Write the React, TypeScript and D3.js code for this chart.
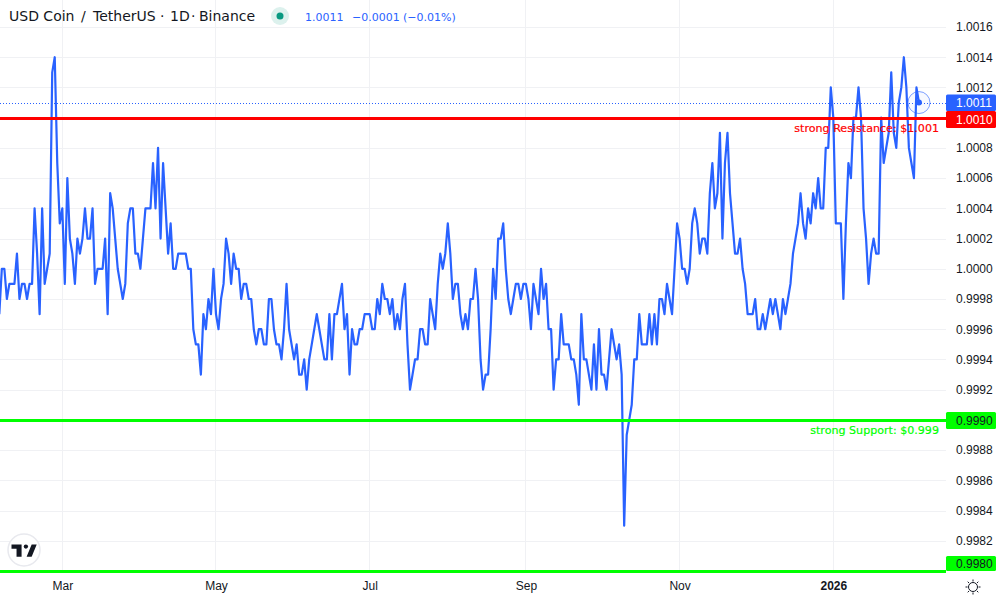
import { useEffect, useRef } from "react";
import * as d3 from "d3";

// Daily closes
const feb25 = [0.9997, 1.0, 1.0, 0.9998, 0.9999, 0.9999, 0.9999, 1.0001, 0.9998, 0.9999, 0.9999, 0.9998, 0.9999, 0.9999, 1.0004, 1.0001, 0.9997, 1.0004, 0.9999, 1.0, 1.0001, 1.0013, 1.0014, 1.0007, 1.0003];
const mar25 = [1.0004, 0.9999, 1.0006, 1.0002, 1.0001, 0.9999, 1.0002, 1.0001, 1.0002, 1.0004, 1.0002, 1.0002, 1.0004, 0.9999, 1.0, 1.0, 1.0, 1.0002, 0.9997, 1.0005, 1.0004, 1.0002, 1.0, 0.9999, 0.9998, 0.9999, 1.0003, 1.0004, 1.0004, 1.0001, 1.0001];
const apr25 = [1.0, 1.0002, 1.0004, 1.0004, 1.0004, 1.0007, 1.0004, 1.0008, 1.0002, 1.0007, 1.0004, 1.0001, 1.0003, 1.0, 1.0, 1.0001, 1.0001, 1.0001, 1.0001, 1.0, 1.0, 0.9996, 0.9995, 0.9995, 0.9993, 0.9997, 0.9996, 0.9998, 0.9997, 1.0];
const may25 = [0.9997, 0.9996, 0.9998, 0.9999, 1.0002, 1.0001, 0.9999, 1.0001, 1.0, 1.0, 0.9998, 0.9999, 0.9999, 0.9998, 0.9998, 0.9996, 0.9995, 0.9996, 0.9996, 0.9995, 0.9995, 0.9998, 0.9998, 0.9996, 0.9995, 0.9995, 0.9994, 0.9996, 0.9999, 0.9996, 0.9995];
const jun25 = [0.9994, 0.9995, 0.9993, 0.9993, 0.9994, 0.9992, 0.9994, 0.9995, 0.9996, 0.9997, 0.9996, 0.9995, 0.9994, 0.9994, 0.9997, 0.9994, 0.9997, 0.9997, 0.9998, 0.9999, 0.9996, 0.9997, 0.9993, 0.9996, 0.9995, 0.9995, 0.9996, 0.9996, 0.9997, 0.9997];
const jul25 = [0.9997, 0.9996, 0.9996, 0.9998, 0.9997, 0.9999, 0.9998, 0.9998, 0.9997, 0.9998, 0.9996, 0.9997, 0.9996, 0.9998, 0.9999, 0.9995, 0.9992, 0.9993, 0.9994, 0.9994, 0.9996, 0.9996, 0.9995, 0.9995, 0.9998, 0.9997, 0.9996, 0.9999, 1.0001, 1.0, 1.0001];
const aug25 = [1.0003, 1.0001, 0.9998, 0.9999, 0.9999, 0.9997, 0.9996, 0.9997, 0.9996, 0.9998, 0.9998, 1.0, 0.9998, 0.9994, 0.9992, 0.9993, 0.9993, 0.9996, 1.0, 0.9998, 1.0002, 1.0002, 1.0003, 1.0, 0.9998, 0.9997, 0.9998, 0.9999, 0.9999, 0.9998, 0.9999];
const sep25 = [0.9999, 0.9998, 0.9996, 0.9999, 0.9998, 0.9997, 1.0, 0.9998, 0.9999, 0.9996, 0.9996, 0.9992, 0.9994, 0.9994, 0.9997, 0.9995, 0.9995, 0.9995, 0.9994, 0.9994, 0.9993, 0.9991, 0.9997, 0.9994, 0.9994, 0.9993, 0.9992, 0.9995, 0.9992, 0.9996];
const oct25 = [0.9993, 0.9993, 0.9992, 0.9994, 0.9996, 0.9995, 0.9994, 0.9995, 0.9993, 0.9983, 0.9989, 0.999, 0.9991, 0.9994, 0.9994, 0.9997, 0.9995, 0.9995, 0.9995, 0.9997, 0.9995, 0.9997, 0.9995, 0.9998, 0.9998, 0.9997, 0.9999, 0.9998, 0.9997, 1.0, 1.0003];
const nov25 = [1.0002, 1.0, 1.0, 0.9999, 1.0, 1.0003, 1.0004, 1.0003, 1.0001, 1.0002, 1.0002, 1.0001, 1.0005, 1.0007, 1.0004, 1.0005, 1.0009, 1.0002, 1.0007, 1.0009, 1.0005, 1.0003, 1.0001, 1.0001, 1.0002, 1.0, 0.9999, 0.9997, 0.9997, 0.9997];
const dec25 = [0.9998, 0.9996, 0.9996, 0.9997, 0.9996, 0.9997, 0.9998, 0.9997, 0.9998, 0.9997, 0.9996, 0.9998, 0.9997, 0.9998, 0.9999, 1.0001, 1.0002, 1.0003, 1.0005, 1.0003, 1.0002, 1.0004, 1.0003, 1.0005, 1.0004, 1.0006, 1.0004, 1.0004, 1.0008, 1.0008, 1.0012];
const jan26 = [1.001, 1.0003, 1.0003, 1.0003, 0.9998, 1.0003, 1.0007, 1.0006, 1.001, 1.001, 1.0012, 1.001, 1.0004, 1.0002, 0.9999, 1.0001, 1.0002, 1.0001, 1.0001, 1.001, 1.0007, 1.0008, 1.0009, 1.0013, 1.0009, 1.0008, 1.0011, 1.0012, 1.0014, 1.0012, 1.0008];
const feb26 = [1.0007, 1.0006, 1.0012, 1.0011];

const closes = [...feb25, ...mar25, ...apr25, ...may25, ...jun25, ...jul25, ...aug25, ...sep25, ...oct25, ...nov25, ...dec25, ...jan26, ...feb26];
const firstDay = new Date(Date.UTC(2025, 1, 4));

const priceTicks = [1.0016, 1.0014, 1.0012, 1.0008, 1.0006, 1.0004, 1.0002, 1.0, 0.9998, 0.9996, 0.9994, 0.9992, 0.9988, 0.9986, 0.9984, 0.9982];
const gridPrices = [...priceTicks, 1.001, 0.999];
const monthTicks = [
  new Date(Date.UTC(2025, 2, 1)),
  new Date(Date.UTC(2025, 4, 1)),
  new Date(Date.UTC(2025, 6, 1)),
  new Date(Date.UTC(2025, 8, 1)),
  new Date(Date.UTC(2025, 10, 1)),
  new Date(Date.UTC(2026, 0, 1)),
];
const monthLabels = ["Mar", "May", "Jul", "Sep", "Nov", "2026"];

const titleParts = ["USD Coin", "/", "TetherUS", "·", "1D", "·", "Binance"];
const titleStarts = [9, 81, 93, 160, 170, 191, 199];
const quoteParts = ["1.0011", "−0.0001", "(−0.01%)"];
const quoteStarts = [305, 352, 403];

const resistance = 1.001;
const support = 0.999;
const lowerLine = 0.998;
const lastPrice = 1.0011;

const WIDTH = 1000;
const HEIGHT = 600;
const PANE_RIGHT = 946;
const PANE_BOTTOM = 571;
const FONT = "'DejaVu Sans', sans-serif";
const AXIS_FONT = "'Liberation Sans', sans-serif";

const BLUE = "#2962ff";
const RED = "#ff0000";
const GREEN = "#00ff00";
const TEXT = "#131722";

function App() {
  const svgRef = useRef<SVGSVGElement>(null);

  useEffect(() => {
    const svgEl = svgRef.current;
    if (!svgEl) return;
    const svg = d3.select(svgEl);
    svg.selectAll("*").remove();

    const x = d3
      .scaleUtc()
      .domain([monthTicks[0], monthTicks[5]])
      .range([62.3, 833.3]);
    const y = d3.scaleLinear().domain([0.998, 1.0016]).range([PANE_BOTTOM, 27]);
    // Horizontal rules sit on whole pixels
    const crisp = (price: number) => Math.round(y(price)) + 0.5;

    const points = closes.map((v, i) => ({
      date: d3.utcDay.offset(firstDay, i),
      value: v,
    }));
    const last = points[points.length - 1];

    // Grid
    svg
      .append("g")
      .selectAll("line")
      .data(gridPrices)
      .join("line")
      .attr("x1", 0)
      .attr("x2", PANE_RIGHT)
      .attr("y1", (d) => crisp(d))
      .attr("y2", (d) => crisp(d))
      .attr("stroke", "#f0f1f4");

    svg
      .append("g")
      .selectAll("line")
      .data(monthTicks)
      .join("line")
      .attr("x1", (d) => Math.floor(x(d)) + 0.5)
      .attr("x2", (d) => Math.floor(x(d)) + 0.5)
      .attr("y1", 0)
      .attr("y2", PANE_BOTTOM)
      .attr("stroke", "#f0f1f4");

    // Last price dotted line
    svg
      .append("line")
      .attr("x1", 0)
      .attr("x2", PANE_RIGHT)
      .attr("y1", crisp(lastPrice))
      .attr("y2", crisp(lastPrice))
      .attr("stroke", BLUE)
      .attr("stroke-dasharray", "1,2");

    // Price line
    const line = d3
      .line<{ date: Date; value: number }>()
      .x((d) => x(d.date))
      .y((d) => y(d.value))
      .curve(d3.curveLinear);

    svg
      .append("path")
      .datum(points)
      .attr("fill", "none")
      .attr("stroke", BLUE)
      .attr("stroke-width", 2.2)
      .attr("stroke-linejoin", "round")
      .attr("d", line);

    // Support / resistance lines
    const levels = [
      { price: resistance, color: RED },
      { price: support, color: GREEN },
      { price: lowerLine, color: GREEN },
    ];
    svg
      .append("g")
      .selectAll("line")
      .data(levels)
      .join("line")
      .attr("x1", 0)
      .attr("x2", PANE_RIGHT)
      .attr("y1", (d) => crisp(d.price))
      .attr("y2", (d) => crisp(d.price))
      .attr("stroke", (d) => d.color)
      .attr("stroke-width", 3);

    // Pulse marker
    svg
      .append("circle")
      .attr("cx", x(last.date))
      .attr("cy", y(last.value))
      .attr("r", 11)
      .attr("fill", "rgba(41,98,255,0.04)")
      .attr("stroke", "rgba(41,98,255,0.6)");
    svg
      .append("circle")
      .attr("cx", x(last.date))
      .attr("cy", y(last.value))
      .attr("r", 3)
      .attr("fill", BLUE);

    // Level notes
    svg
      .append("text")
      .attr("x", 939)
      .attr("y", y(resistance) + 14)
      .attr("text-anchor", "end")
      .attr("font-family", FONT)
      .attr("font-size", 11.1)
      .attr("fill", RED)
      .attr("stroke", RED)
      .attr("stroke-width", 0.2)
      .text("strong Resistance: $1.001");
    svg
      .append("text")
      .attr("x", 939)
      .attr("y", y(support) + 14)
      .attr("text-anchor", "end")
      .attr("font-family", FONT)
      .attr("font-size", 11.1)
      .attr("fill", GREEN)
      .attr("stroke", GREEN)
      .attr("stroke-width", 0.2)
      .text("strong Support: $0.999");

    // Price axis
    const fmt = d3.format(".4f");
    svg
      .append("g")
      .attr("transform", `translate(${PANE_RIGHT},0)`)
      .call(
        d3
          .axisRight(y)
          .tickValues(priceTicks)
          .tickSize(0)
          .tickPadding(10)
          .tickFormat((d) => fmt(d as number))
      )
      .call((g) => g.select(".domain").remove())
      .call((g) =>
        g
          .selectAll(".tick text")
          .attr("fill", TEXT)
          .attr("font-family", AXIS_FONT)
          .attr("font-size", "12px")
      );

    // Price pills
    const pills = [
      { top: 94.5, h: 16.5, fill: BLUE, color: "#ffffff", label: fmt(lastPrice) },
      { top: 111, h: 17, fill: RED, color: "#ffffff", label: fmt(resistance) },
      { top: 412, h: 17, fill: GREEN, color: TEXT, label: fmt(support) },
      { top: 556, h: 15, fill: GREEN, color: TEXT, label: fmt(lowerLine) },
    ];
    const pillGroup = svg.append("g");
    pillGroup
      .selectAll("rect")
      .data(pills)
      .join("rect")
      .attr("x", PANE_RIGHT)
      .attr("y", (d) => d.top)
      .attr("width", 50)
      .attr("height", (d) => d.h)
      .attr("rx", 1.5)
      .attr("fill", (d) => d.fill);
    pillGroup
      .selectAll("text")
      .data(pills)
      .join("text")
      .attr("x", 956)
      .attr("y", (d) => d.top + d.h / 2 + 4.3)
      .attr("font-family", AXIS_FONT)
      .attr("font-size", 12)
      .attr("fill", (d) => d.color)
      .text((d) => d.label);

    // Time axis
    svg
      .append("g")
      .attr("transform", `translate(0,${PANE_BOTTOM})`)
      .call(
        d3
          .axisBottom(x)
          .tickValues(monthTicks)
          .tickSize(0)
          .tickPadding(10)
          .tickFormat((_, i) => monthLabels[i])
      )
      .call((g) => g.select(".domain").remove())
      .call((g) =>
        g
          .selectAll<SVGTextElement, Date>(".tick text")
          .attr("fill", TEXT)
          .attr("font-family", AXIS_FONT)
          .attr("font-size", "12px")
          .attr("font-weight", (_, i) => (i === 5 ? 700 : 400))
      );

    // Header
    svg
      .append("g")
      .selectAll("text")
      .data(titleParts)
      .join("text")
      .attr("x", (_, i) => titleStarts[i])
      .attr("y", 21)
      .attr("font-family", FONT)
      .attr("font-size", 14)
      .attr("fill", TEXT)
      .text((d) => d);
    svg.append("circle").attr("cx", 280).attr("cy", 16).attr("r", 9).attr("fill", "rgba(8,153,129,0.14)");
    svg.append("circle").attr("cx", 280).attr("cy", 16).attr("r", 3.5).attr("fill", "#089981");
    svg
      .append("g")
      .selectAll("text")
      .data(quoteParts)
      .join("text")
      .attr("x", (_, i) => quoteStarts[i])
      .attr("y", 21)
      .attr("font-family", FONT)
      .attr("font-size", 11)
      .attr("fill", BLUE)
      .text((d) => d);

    // Logo badge
    const logo = svg.append("g").attr("transform", "translate(24,550)");
    logo.append("circle").attr("r", 16).attr("fill", "#fff").attr("stroke", "#e8e9ee").attr("stroke-width", 1.5);
    const mark = logo.append("g").attr("transform", "translate(-12.5,-7) scale(0.72)").attr("fill", TEXT);
    mark.append("path").attr("d", "M14 2H0v6h7v11h7V2Z");
    mark.append("path").attr("d", "M28 19h-7l7-17h7l-7 17Z");
    mark.append("circle").attr("cx", 20).attr("cy", 5).attr("r", 3);

    // Theme toggle
    const sun = svg.append("g").attr("transform", "translate(973,587)");
    sun.append("circle").attr("r", 4.5).attr("fill", "#fff").attr("stroke", TEXT);
    sun
      .selectAll("line")
      .data(d3.range(8))
      .join("line")
      .attr("x1", (d) => 5.5 * Math.cos((d * Math.PI) / 4))
      .attr("y1", (d) => 5.5 * Math.sin((d * Math.PI) / 4))
      .attr("x2", (d) => 7.5 * Math.cos((d * Math.PI) / 4))
      .attr("y2", (d) => 7.5 * Math.sin((d * Math.PI) / 4))
      .attr("stroke", TEXT);
  }, []);

  return (
    <svg
      ref={svgRef}
      width={WIDTH}
      height={HEIGHT}
      style={{ position: "absolute", left: 0, top: 0, background: "#fff" }}
    />
  );
}

export default App;
